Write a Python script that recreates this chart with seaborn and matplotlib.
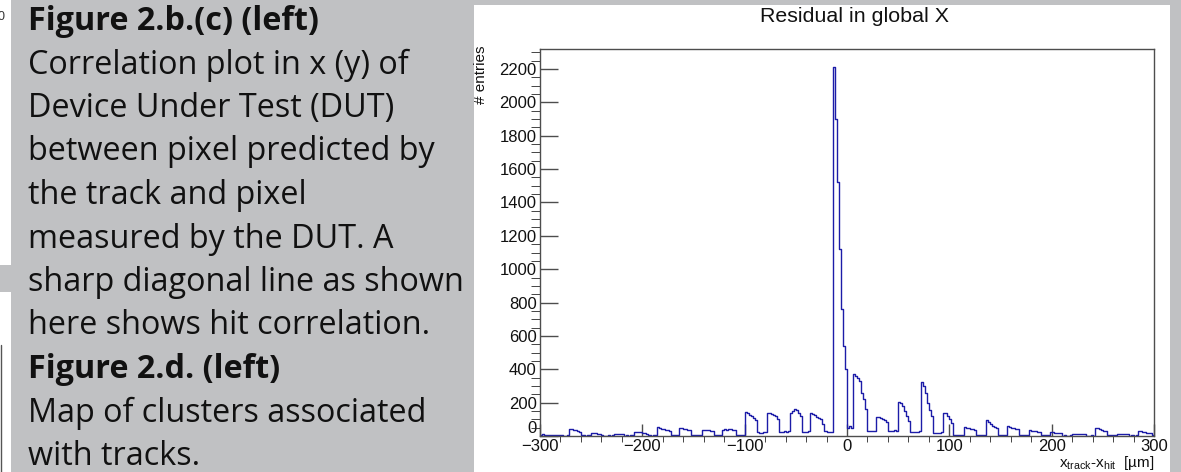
import numpy as np
import pandas as pd
import seaborn as sns
import matplotlib.pyplot as plt
from matplotlib.patches import Rectangle
from matplotlib.ticker import MultipleLocator

# residual histogram, 2 um bins from -300 to 300
bin_lo = -300
bin_width = 2
counts = [
    4, 9, 7, 5, 6, 8, 6, 5, 7, 4, 3, 2, 2, 3, 44,                          # -300
    40, 38, 33, 30, 26, 4, 3, 2, 3, 5, 20, 18, 17, 14, 12,                 # -270
    3, 2, 2, 3, 2, 4, 10, 12, 14, 11, 9, 2, 3, 2, 3,                       # -240
    4, 22, 26, 24, 22, 20, 16, 14, 3, 2, 3, 4, 54, 50, 44,                 # -210
    40, 36, 35, 30, 4, 3, 4, 5, 48, 46, 42, 40, 36, 34, 6,                 # -180
    4, 3, 5, 6, 36, 34, 35, 33, 30, 28, 6, 5, 7, 6, 38,                    # -150
    40, 38, 40, 39, 37, 36, 5, 4, 6, 5, 146, 135, 128, 120, 110,           # -120
    95, 22, 20, 20, 22, 21, 140, 138, 132, 125, 120, 100, 26, 25, 27,      # -90
    26, 28, 135, 150, 160, 155, 140, 120, 26, 24, 25, 28, 136, 130, 125,   # -60
    115, 110, 100, 70, 28, 26, 24, 24, 2210, 1900, 1520, 1120, 760, 540, 400,  # -30
    50, 62, 45, 372, 360, 350, 330, 260, 220, 160, 30, 28, 30, 32, 116,    # 0
    112, 108, 100, 95, 85, 30, 32, 30, 33, 32, 206, 195, 180, 150, 120,    # 30
    90, 26, 25, 26, 25, 28, 326, 300, 256, 200, 156, 120, 20, 18, 20,      # 60
    20, 22, 140, 135, 120, 100, 80, 6, 5, 6, 5, 7, 56, 50, 46,             # 90
    44, 42, 38, 4, 3, 4, 5, 4, 96, 85, 70, 60, 55, 50, 5,                  # 120
    4, 3, 4, 58, 54, 50, 46, 42, 40, 4, 3, 4, 5, 3, 34,                    # 150
    32, 30, 28, 26, 25, 4, 3, 4, 3, 24, 22, 20, 18, 16, 15,                # 180
    2, 3, 2, 2, 3, 14, 13, 14, 12, 13, 11, 10, 2, 2, 3,                    # 210
    2, 50, 46, 40, 36, 32, 30, 4, 3, 4, 3, 4, 14, 13, 14,                  # 240
    12, 13, 11, 2, 3, 2, 3, 30, 28, 25, 22, 18, 16, 15, 3,                 # 270
]

title = "Residual in global X"
ylabel = "# entries"
xlabel = r"x$_{\mathregular{track}}$-x$_{\mathregular{hit}}$  [µm]"

caption = [
    ("Figure 2.b.(c) (left)", "bold"),
    ("Correlation plot in x (y) of", "normal"),
    ("Device Under Test (DUT)", "normal"),
    ("between pixel predicted by", "normal"),
    ("the track and pixel", "normal"),
    ("measured by the DUT. A", "normal"),
    ("sharp diagonal line as shown", "normal"),
    ("here shows hit correlation.", "normal"),
    ("Figure 2.d. (left)", "bold"),
    ("Map of clusters associated", "normal"),
    ("with tracks.", "normal"),
]

bin_hi = bin_lo + bin_width * len(counts)
df = pd.DataFrame({"x": bin_lo + bin_width * (np.arange(len(counts)) + 0.5), "n": counts})

sns.set_style("ticks")
plt.rcParams["font.family"] = ["Liberation Sans", "DejaVu Sans"]
plt.rcParams["mathtext.fontset"] = "custom"
plt.rcParams["mathtext.rm"] = "Liberation Sans"

W, H = 1181, 472
fig = plt.figure(figsize=(W / 100, H / 100), dpi=100)
fig.patch.set_facecolor("#c0c1c3")

# white pieces of the neighbouring picture on the far left
fig.patches.append(Rectangle((0, 1 - 265 / H), 11 / W, 265 / H, transform=fig.transFigure,
                             facecolor="white", edgecolor="none", zorder=-10))
fig.patches.append(Rectangle((0, 0), 11 / W, 1 - 292 / H, transform=fig.transFigure,
                             facecolor="white", edgecolor="none", zorder=-10))
fig.lines.append(plt.Line2D([1.5 / W, 1.5 / W], [0, 1 - 345 / H], transform=fig.transFigure,
                            color="#555555", lw=1))
fig.text(-2 / W, 1 - 17 / H, "0", fontsize=9, color="#333333", va="center", ha="left")

# white panel behind the histogram
fig.patches.append(Rectangle((474 / W, 0), (1170 - 474) / W, 1 - 5 / H, transform=fig.transFigure,
                             facecolor="white", edgecolor="none", zorder=-10))

for i, (line, weight) in enumerate(caption):
    fig.text(28 / W, 1 - (30 + 43.5 * i) / H, line, fontsize=23.3, fontweight=weight,
             family=["Open Sans", "DejaVu Sans"], color="#111111", va="baseline", ha="left")

ax = fig.add_axes([540 / W, 1 - 436 / H, (1154 - 540) / W, (436 - 49) / H])
ax.set_facecolor("white")
sns.histplot(data=df, x="x", weights="n", binwidth=bin_width, binrange=(bin_lo, bin_hi),
             element="step", fill=False, color="#1c1ca8", linewidth=1.0, ax=ax)

ax.set_xlim(-300, 300)
ax.set_ylim(0, 2320)
ax.set_xlabel("")
ax.set_ylabel("")
for s in ax.spines.values():
    s.set_color("#4d4d4d")
    s.set_linewidth(1)

ax.xaxis.set_major_locator(MultipleLocator(100))
ax.xaxis.set_minor_locator(MultipleLocator(20))
ax.yaxis.set_major_locator(MultipleLocator(200))
ax.yaxis.set_minor_locator(MultipleLocator(50))
ax.tick_params(direction="in", colors="#4d4d4d", labelcolor="#111111", labelsize=12, width=1)
ax.tick_params(axis="y", which="major", length=13, pad=2.5)
ax.tick_params(axis="y", which="minor", length=6.5)
ax.tick_params(axis="x", which="major", length=8.5, pad=2)
ax.tick_params(axis="x", which="minor", length=4.5)

# ROOT puts the "0" just above the "-300"
fig.canvas.draw()
for lab in ax.get_yticklabels():
    if lab.get_text() == "0":
        lab.set_verticalalignment("bottom")

fig.text(855 / W, 1 - 17 / H, title, fontsize=15.4, color="#111111", ha="center", va="center")
fig.text(481 / W, 1 - 46 / H, ylabel, fontsize=11, color="#111111", rotation=90,
         ha="center", va="top")
fig.text(1154 / W, 1 - 463 / H, xlabel, fontsize=11, color="#111111", ha="right", va="center")

fig.savefig("out.png", dpi=100, facecolor=fig.get_facecolor())
